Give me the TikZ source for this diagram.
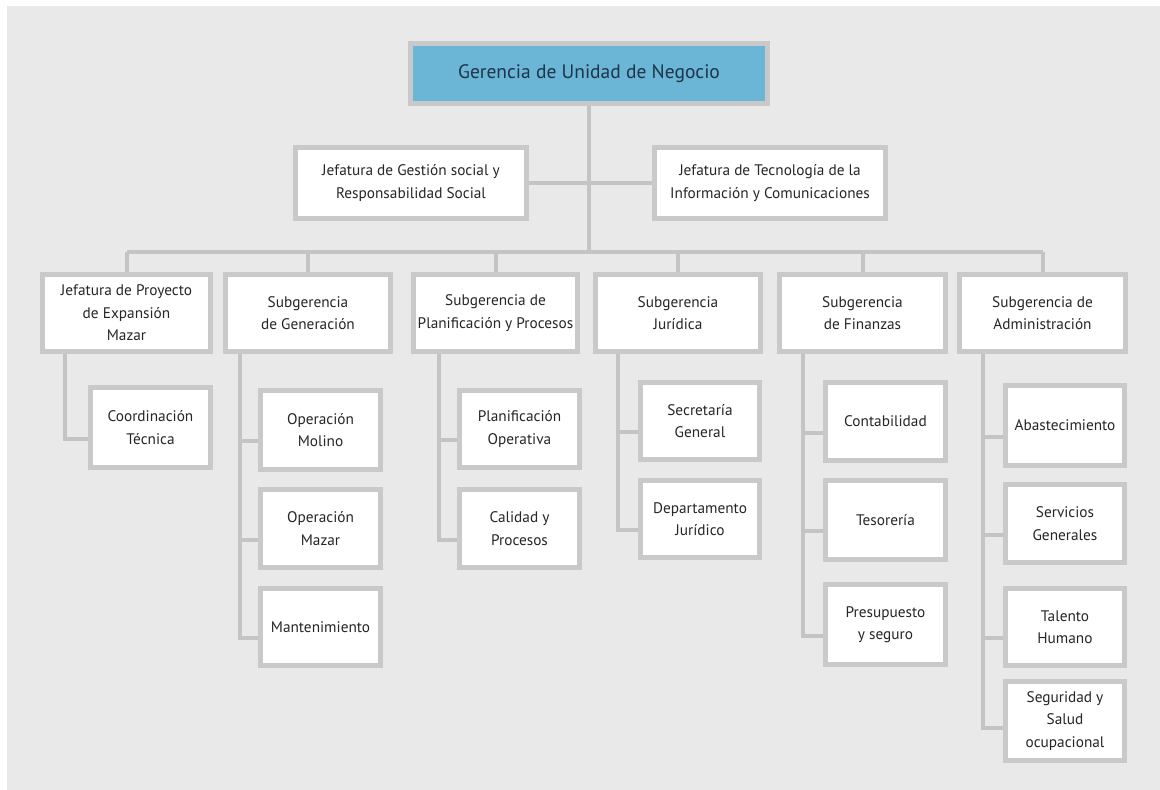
\documentclass[tikz,border=0pt]{standalone}
\usepackage{fontspec}
\setmainfont{PT Sans}
\begin{document}
\definecolor{pagebg}{HTML}{E9E9E9}
\definecolor{framegray}{HTML}{C9C9C9}
\definecolor{linkgray}{HTML}{C4C4C4}
\definecolor{headblue}{HTML}{6BB5D6}
\definecolor{inkgray}{HTML}{262626}
\definecolor{inkblue}{HTML}{1E3548}
\tikzset{
  unitbox/.style={draw=framegray, line width=5pt, fill=white, inner sep=0pt,
    align=center, text=inkgray, font=\fontsize{15.3}{22.5}\selectfont},
  headbox/.style={unitbox, fill=headblue, text=inkblue, font=\fontsize{19.5}{22}\selectfont},
  link/.style={draw=linkgray, line width=4pt}
}
% box from outer corners (x1,y1)-(x2,y2), pixel units, y downwards
\newcommand\orgbox[7][unitbox]{%
  \node[#1, minimum width={#5-#3-5}, minimum height={#6-#4-5}]
    (#2) at ({(#3+#5)/2},{(#4+#6)/2}) {#7};}
\begin{tikzpicture}[x=1pt,y=-1pt]
\useasboundingbox (0,0) rectangle (1160,790);
\fill[white] (0,0) rectangle (1160,790);
\fill[pagebg] (7,6) rectangle (1160,790);

% top
\orgbox[headbox]{gun}{408}{41}{770}{106}{Gerencia de Unidad de Negocio}

% staff units
\orgbox{jgs}{293}{145}{529}{221}{Jefatura de Gestión social y\\Responsabilidad Social}
\orgbox{jti}{652}{145}{888}{221}{Jefatura de Tecnología de la\\Información y Comunicaciones}

% main line units
\orgbox{jpe}{40}{272}{213}{354}{Jefatura de Proyecto\\de Expansión\\Mazar}
\orgbox{sge}{223}{272}{393}{354}{Subgerencia\\de Generación}
\orgbox{spp}{411}{272}{580}{354}{Subgerencia de\\Planificación y Procesos}
\orgbox{sju}{593}{272}{763}{354}{Subgerencia\\Jurídica}
\orgbox{sfi}{777}{272}{948}{354}{Subgerencia\\de Finanzas}
\orgbox{sad}{957}{272}{1128}{354}{Subgerencia de\\Administración}

% departments
\orgbox{cte}{88}{385}{213}{470}{Coordinación\\Técnica}

\orgbox{omo}{258}{388}{383}{472}{Operación\\Molino}
\orgbox{oma}{258}{487}{383}{570}{Operación\\Mazar}
\orgbox{man}{258}{586}{383}{668}{Mantenimiento}

\orgbox{pop}{457}{388}{582}{470}{Planificación\\Operativa}
\orgbox{cpr}{457}{487}{582}{570}{Calidad y\\Procesos}

\orgbox{sec}{638}{380}{762}{462}{Secretaría\\General}
\orgbox{dju}{638}{478}{762}{560}{Departamento\\Jurídico}

\orgbox{con}{823}{380}{948}{463}{Contabilidad}
\orgbox{tes}{823}{478}{948}{562}{Tesorería}
\orgbox{pre}{823}{582}{948}{667}{Presupuesto\\y seguro}

\orgbox{aba}{1003}{383}{1127}{468}{Abastecimiento}
\orgbox{sgn}{1003}{482}{1127}{565}{Servicios\\Generales}
\orgbox{thu}{1003}{586}{1127}{668}{Talento\\Humano}
\orgbox{ssa}{1003}{679}{1127}{763}{Seguridad y\\Salud\\ocupacional}

% trunk lines
\coordinate (bus) at (0,252);
\coordinate (v1) at (65,0);
\coordinate (v2) at (240,0);
\coordinate (v3) at (439,0);
\coordinate (v4) at (618,0);
\coordinate (v5) at (803,0);
\coordinate (v6) at (983,0);

\path[link] (gun.south) -- (gun.south |- bus);
\path[link] (jgs.east) -- (jti.west);
\path[link] (jpe.north |- bus) -- (sad.north |- bus);
\foreach \b in {jpe,sge,spp,sju,sfi,sad}
  \path[link] (\b.north |- bus) -- (\b.north);

% branches: parent trunk down, then across into each child
\path[link] (jpe.south -| v1) |- ([yshift=-11pt]cte.west);

\path[link] (sge.south -| v2) |- ([yshift=-11pt]man.west);
\foreach \c in {omo,oma}
  \path[link] ([yshift=-11pt]\c.west -| v2) -- ([yshift=-11pt]\c.west);

\path[link] (spp.south -| v3) |- ([yshift=-11pt]cpr.west);
\path[link] ([yshift=-11pt]pop.west -| v3) -- ([yshift=-11pt]pop.west);

\path[link] (sju.south -| v4) |- ([yshift=-11pt]dju.west);
\path[link] ([yshift=-11pt]sec.west -| v4) -- ([yshift=-11pt]sec.west);

\path[link] (sfi.south -| v5) |- ([yshift=-11pt]pre.west);
\foreach \c in {con,tes}
  \path[link] ([yshift=-11pt]\c.west -| v5) -- ([yshift=-11pt]\c.west);

\path[link] (sad.south -| v6) |- ([yshift=-7pt]ssa.west);
\foreach \c in {aba,sgn,thu}
  \path[link] ([yshift=-11pt]\c.west -| v6) -- ([yshift=-11pt]\c.west);
\end{tikzpicture}
\end{document}
